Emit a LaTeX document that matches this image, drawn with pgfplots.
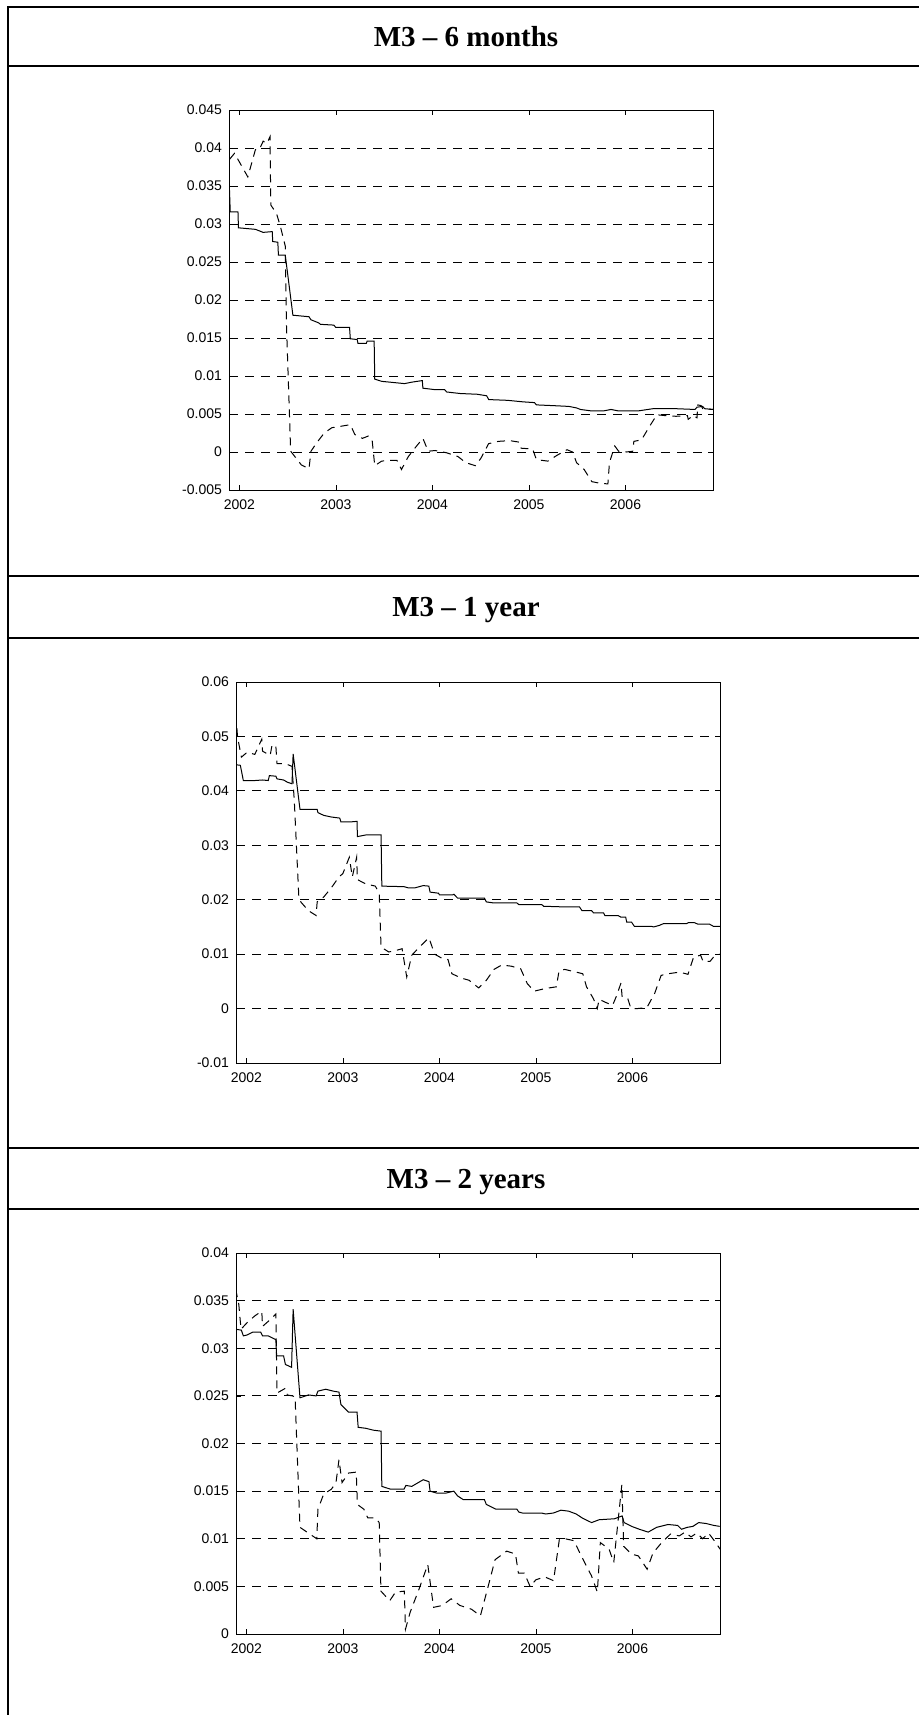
\documentclass[border=0pt]{standalone}
\usepackage{fontspec}
\setmainfont{Liberation Sans}
\newfontfamily\headfont{Liberation Serif}
\usepackage{pgfplots}
\pgfplotsset{compat=1.18}

\pgfplotsset{
  m3/.style={
    scale only axis, width=242pt, height=190.5pt, anchor=south west,
    xmin=2001.892, xmax=2006.907,
    xtick={2002,2003,2004,2005,2006},
    xticklabels={2002,2003,2004,2005,2006},
    scaled x ticks=false, scaled y ticks=false,
    tick align=inside, major tick length=2.5pt,
    tick style={black, line width=0.4pt},
    axis line style={line width=0.5pt},
    ticklabel style={font=\fontsize{7}{8}\selectfont},
    xticklabel style={yshift=-1.5pt},
    ymajorgrids,
    major grid style={black, line width=0.45pt, dash pattern=on 4.5pt off 3.5pt},
  },
  sol/.style={black, line width=0.5pt, no marks, solid},
  est/.style={black, line width=0.5pt, no marks, dash pattern=on 4pt off 3pt},
}

\begin{document}
\begin{tikzpicture}
\path[use as bounding box] (0,0) rectangle (459pt,-857.5pt);

% table frame
\draw[line width=0.9pt] (3.9pt,-870pt) -- (3.9pt,-3.35pt) -- (470pt,-3.35pt);
\draw[line width=0.9pt] (3.9pt,-33pt) -- (470pt,-33pt);
\draw[line width=0.9pt] (3.9pt,-287.85pt) -- (470pt,-287.85pt);
\draw[line width=0.9pt] (3.9pt,-318.85pt) -- (470pt,-318.85pt);
\draw[line width=0.9pt] (3.9pt,-574pt) -- (470pt,-574pt);
\draw[line width=0.9pt] (3.9pt,-604.65pt) -- (470pt,-604.65pt);

\tikzset{head/.style={anchor=base, inner sep=0pt, font=\headfont\bfseries\fontsize{14.5}{17}\selectfont}}
\node[head] at (233pt,-23pt) {M3 – 6 months};
\node[head] at (233pt,-308.15pt) {M3 – 1 year};
\node[head] at (233pt,-594.15pt) {M3 – 2 years};

% ---- 6 months
\begin{axis}[m3, at={(114.5pt,-245pt)}, height=190pt,
  ymin=-0.005, ymax=0.045,
  ytick={-0.005,0,0.005,0.01,0.015,0.02,0.025,0.03,0.035,0.04,0.045},
  yticklabels={-0.005,0,0.005,0.01,0.015,0.02,0.025,0.03,0.035,0.04,0.045}]
\addplot[sol] coordinates {
(2001.897,0.0345) (2001.905,0.0316) (2001.985,0.0316) (2001.99,0.0295)
(2002.166,0.0293) (2002.246,0.0289) (2002.34,0.029) (2002.345,0.0277)
(2002.398,0.0276) (2002.404,0.0259) (2002.475,0.0259) (2002.554,0.018)
(2002.721,0.0178) (2002.741,0.0174) (2002.82,0.017) (2002.84,0.0168)
(2002.978,0.0167) (2002.998,0.0164) (2003.141,0.0164) (2003.149,0.0149)
(2003.22,0.0148) (2003.228,0.0143) (2003.315,0.0143) (2003.323,0.0146)
(2003.396,0.0146) (2003.402,0.0096) (2003.473,0.0093) (2003.711,0.009)
(2003.79,0.0092) (2003.895,0.0094) (2003.901,0.0084) (2004.028,0.0082)
(2004.127,0.0082) (2004.147,0.0079) (2004.285,0.0077) (2004.463,0.0076)
(2004.562,0.0074) (2004.582,0.0069) (2004.78,0.0068) (2004.939,0.0066)
(2005.057,0.0065) (2005.077,0.0062) (2005.255,0.0061) (2005.414,0.006)
(2005.493,0.0058) (2005.533,0.0056) (2005.651,0.0054) (2005.77,0.0054)
(2005.85,0.0056) (2005.929,0.0054) (2006.127,0.0054) (2006.285,0.0057)
(2006.523,0.0057) (2006.721,0.0056) (2006.741,0.0059) (2006.8,0.006)
(2006.82,0.0057) (2006.907,0.0056)};
\addplot[est] coordinates {
(2001.897,0.0385) (2001.949,0.0393) (2002.087,0.0362) (2002.166,0.0398)
(2002.206,0.0398) (2002.246,0.0409) (2002.285,0.0406) (2002.317,0.0415)
(2002.325,0.0325) (2002.384,0.0314) (2002.424,0.0297) (2002.475,0.0271)
(2002.487,0.0169) (2002.531,0.0001) (2002.562,-0.0004) (2002.642,-0.0017)
(2002.721,-0.0022) (2002.741,0.0001) (2002.8,0.0012) (2002.879,0.0025)
(2002.958,0.0032) (2003.057,0.0034) (2003.149,0.0036) (2003.196,0.0023)
(2003.275,0.0018) (2003.335,0.0021) (2003.374,0.0017) (2003.402,-0.0018)
(2003.473,-0.0012) (2003.552,-0.0011) (2003.632,-0.0011) (2003.679,-0.0023)
(2003.75,-0.0006) (2003.83,0.0007) (2003.901,0.0018) (2003.956,0.0001)
(2004.028,0.0002) (2004.147,-0.0001) (2004.265,-0.0006) (2004.345,-0.0014)
(2004.444,-0.0018) (2004.503,-0.0008) (2004.582,0.0011) (2004.681,0.0014)
(2004.8,0.0015) (2004.899,0.0013) (2004.919,0.0005) (2005.038,0.0004)
(2005.077,-0.001) (2005.196,-0.0012) (2005.295,-0.0004) (2005.394,0.0003)
(2005.453,0) (2005.493,-0.0014) (2005.572,-0.0023) (2005.651,-0.0039)
(2005.731,-0.0041) (2005.818,-0.0042) (2005.834,-0.0014) (2005.889,0.0008)
(2005.929,0.0001) (2006.008,0) (2006.075,0.0001) (2006.087,0.0014)
(2006.166,0.0016) (2006.246,0.0033) (2006.325,0.0049) (2006.404,0.0048)
(2006.523,0.0047) (2006.642,0.0048) (2006.65,0.0043) (2006.701,0.0048)
(2006.741,0.0045) (2006.749,0.0062) (2006.784,0.0061) (2006.8,0.0057)
(2006.907,0.0056)};
\end{axis}

% ---- 1 year
\begin{axis}[m3, at={(118pt,-531.5pt)},
  ymin=-0.01, ymax=0.06,
  ytick={-0.01,0,0.01,0.02,0.03,0.04,0.05,0.06},
  yticklabels={-0.01,0,0.01,0.02,0.03,0.04,0.05,0.06}]
\addplot[sol] coordinates {
(2001.889,0.0448) (2001.937,0.0447) (2001.968,0.0419) (2002.087,0.0419)
(2002.167,0.042) (2002.226,0.0419) (2002.238,0.0428) (2002.305,0.0427)
(2002.317,0.0422) (2002.385,0.042) (2002.424,0.0416) (2002.472,0.0413)
(2002.484,0.0468) (2002.555,0.0366) (2002.733,0.0366) (2002.741,0.036)
(2002.801,0.0355) (2002.88,0.0352) (2002.967,0.035) (2002.979,0.0343)
(2003.078,0.0343) (2003.146,0.0344) (2003.15,0.0316) (2003.237,0.0319)
(2003.395,0.0319) (2003.403,0.0225) (2003.633,0.0224) (2003.673,0.0222)
(2003.75,0.0222) (2003.832,0.0226) (2003.89,0.0225) (2003.903,0.0214)
(2003.99,0.0212) (2004.0,0.0209) (2004.137,0.0209) (2004.15,0.021)
(2004.188,0.0203) (2004.466,0.0203) (2004.486,0.0196) (2004.565,0.0194)
(2004.803,0.0194) (2004.823,0.0191) (2005.06,0.0191) (2005.08,0.0188)
(2005.259,0.0187) (2005.45,0.0187) (2005.477,0.018) (2005.576,0.018)
(2005.596,0.0176) (2005.7,0.0176) (2005.714,0.0171) (2005.85,0.0171)
(2005.88,0.0168) (2005.93,0.0168) (2005.94,0.0159) (2005.99,0.0159)
(2006.02,0.0151) (2006.2,0.0151) (2006.22,0.015) (2006.28,0.0153)
(2006.32,0.0156) (2006.56,0.0156) (2006.58,0.0158) (2006.64,0.0158)
(2006.68,0.0155) (2006.8,0.0155) (2006.84,0.0151) (2006.907,0.0151)};
\addplot[est] coordinates {
(2001.889,0.0541) (2001.909,0.0498) (2001.948,0.0462) (2002.008,0.0471)
(2002.087,0.0467) (2002.159,0.0495) (2002.167,0.0473) (2002.246,0.0465)
(2002.266,0.0485) (2002.305,0.0482) (2002.317,0.045) (2002.404,0.045)
(2002.472,0.0445) (2002.496,0.0382) (2002.543,0.0205) (2002.563,0.0196)
(2002.642,0.018) (2002.722,0.0171) (2002.733,0.0196) (2002.801,0.0205)
(2002.88,0.0222) (2002.959,0.0242) (2002.999,0.0248) (2003.066,0.0278)
(2003.097,0.0242) (2003.142,0.0278) (2003.15,0.0237) (2003.237,0.0229)
(2003.336,0.0225) (2003.376,0.0211) (2003.395,0.0113) (2003.475,0.0104)
(2003.554,0.0107) (2003.613,0.011) (2003.661,0.0058) (2003.713,0.0098)
(2003.792,0.0113) (2003.891,0.013) (2003.95,0.01) (2004.03,0.0092)
(2004.089,0.009) (2004.129,0.0064) (2004.228,0.0056) (2004.307,0.0052)
(2004.406,0.0038) (2004.486,0.0052) (2004.565,0.0072) (2004.644,0.008)
(2004.743,0.0078) (2004.842,0.0073) (2004.91,0.0046) (2004.981,0.0032)
(2005.1,0.0037) (2005.211,0.004) (2005.239,0.0069) (2005.298,0.0072)
(2005.417,0.0067) (2005.485,0.0064) (2005.524,0.004) (2005.596,0.0018)
(2005.635,0.0) (2005.655,0.0017) (2005.714,0.0012) (2005.794,0.0006)
(2005.834,0.0023) (2005.881,0.0047) (2005.893,0.0021) (2005.952,0.0018)
(2005.984,0.0) (2006.051,0.0) (2006.15,0.0002) (2006.23,0.0028)
(2006.297,0.0061) (2006.369,0.0064) (2006.488,0.0067) (2006.575,0.0063)
(2006.634,0.0095) (2006.706,0.0098) (2006.733,0.0086) (2006.805,0.0087)
(2006.837,0.0094) (2006.904,0.01)};
\end{axis}

% ---- 2 years
\begin{axis}[m3, at={(118pt,-817pt)},
  ymin=0, ymax=0.04,
  ytick={0,0.005,0.01,0.015,0.02,0.025,0.03,0.035,0.04},
  yticklabels={0,0.005,0.01,0.015,0.02,0.025,0.03,0.035,0.04}]
\addplot[sol] coordinates {
(2001.889,0.032) (2001.948,0.0319) (2001.968,0.0313) (2002.008,0.0314)
(2002.067,0.0317) (2002.147,0.0317) (2002.167,0.0313) (2002.226,0.0313)
(2002.246,0.0312) (2002.305,0.0309) (2002.313,0.0292) (2002.385,0.0292)
(2002.404,0.0283) (2002.468,0.028) (2002.484,0.0341) (2002.555,0.0248)
(2002.642,0.0251) (2002.722,0.025) (2002.741,0.0255) (2002.821,0.0257)
(2002.9,0.0255) (2002.959,0.0254) (2002.979,0.0241) (2003.058,0.0233)
(2003.146,0.0233) (2003.158,0.0217) (2003.237,0.0216) (2003.316,0.0214)
(2003.395,0.0213) (2003.403,0.0155) (2003.495,0.0152) (2003.633,0.0152)
(2003.653,0.0156) (2003.713,0.0155) (2003.832,0.0162) (2003.891,0.016)
(2003.903,0.015) (2003.97,0.0148) (2004.069,0.0148) (2004.149,0.015)
(2004.188,0.0145) (2004.248,0.0141) (2004.466,0.0141) (2004.486,0.0136)
(2004.585,0.0131) (2004.803,0.0131) (2004.823,0.0128) (2004.862,0.0127)
(2005.06,0.0127) (2005.1,0.0126) (2005.179,0.0127) (2005.259,0.013)
(2005.338,0.0129) (2005.417,0.0126) (2005.477,0.0122) (2005.516,0.012)
(2005.576,0.0117) (2005.655,0.012) (2005.814,0.0121) (2005.893,0.0124)
(2005.913,0.0117) (2005.992,0.0113) (2006.071,0.011) (2006.163,0.0107)
(2006.25,0.0112) (2006.369,0.0115) (2006.468,0.0114) (2006.508,0.011)
(2006.567,0.0112) (2006.626,0.0113) (2006.686,0.0117) (2006.765,0.0116)
(2006.844,0.0114) (2006.904,0.0113)};
\addplot[est] coordinates {
(2001.889,0.0362) (2001.921,0.0346) (2001.944,0.032) (2002.008,0.0327)
(2002.087,0.0334) (2002.159,0.0339) (2002.167,0.0323) (2002.246,0.033)
(2002.305,0.0336) (2002.317,0.0253) (2002.404,0.0258) (2002.424,0.0251)
(2002.476,0.025) (2002.504,0.0249) (2002.555,0.0112) (2002.642,0.0106)
(2002.729,0.01) (2002.741,0.0131) (2002.801,0.0147) (2002.88,0.0152)
(2002.928,0.0159) (2002.959,0.0183) (2002.991,0.0159) (2003.058,0.0169)
(2003.138,0.017) (2003.15,0.0136) (2003.217,0.0131) (2003.257,0.0122)
(2003.336,0.0122) (2003.376,0.0117) (2003.394,0.0045) (2003.485,0.0035)
(2003.545,0.0044) (2003.636,0.0045) (2003.648,0.0005) (2003.697,0.0023)
(2003.788,0.0047) (2003.879,0.0073) (2003.939,0.0028) (2004.03,0.003)
(2004.121,0.0037) (2004.212,0.003) (2004.333,0.0026) (2004.424,0.0019)
(2004.515,0.0054) (2004.576,0.0078) (2004.697,0.0087) (2004.788,0.0084)
(2004.818,0.0064) (2004.879,0.0064) (2004.939,0.005) (2005.0,0.0057)
(2005.091,0.006) (2005.182,0.0056) (2005.242,0.0099) (2005.303,0.01)
(2005.394,0.0098) (2005.455,0.0085) (2005.515,0.0073) (2005.576,0.0061)
(2005.636,0.0044) (2005.667,0.0096) (2005.758,0.0089) (2005.806,0.0075)
(2005.89,0.0157) (2005.909,0.0092) (2005.988,0.0084) (2006.061,0.0082)
(2006.152,0.0068) (2006.212,0.0085) (2006.303,0.0096) (2006.394,0.0105)
(2006.485,0.0103) (2006.545,0.0107) (2006.606,0.0102) (2006.667,0.0106)
(2006.727,0.01) (2006.788,0.0106) (2006.848,0.0098) (2006.909,0.0089)};
\end{axis}
\end{tikzpicture}
\end{document}
